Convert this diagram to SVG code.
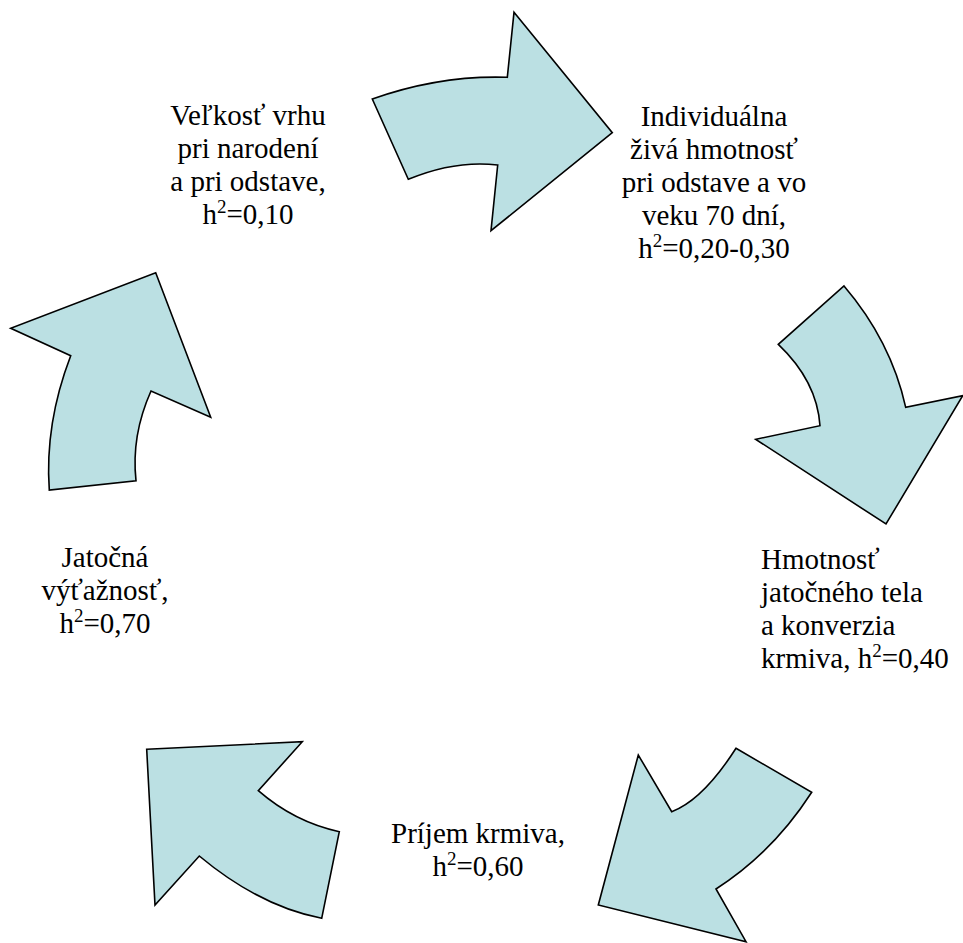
<svg xmlns="http://www.w3.org/2000/svg" width="963" height="943" viewBox="0 0 963 943">
<style>
.arrow{fill:#BBE0E3;stroke:#000;stroke-width:1.6;stroke-linejoin:miter}
text{font-family:'Liberation Serif','Times New Roman',serif;font-size:29px;fill:#000}
.c{text-anchor:middle}
.sup{font-size:19px}
</style>
<rect width="963" height="943" fill="#fff"/>
<g id="connectors">
<path id="arrow-top" class="arrow" d="M372.3,99 Q440,75 507.3,77.3 L514,12.3 L612.3,132.7 L491,230.7 L497.7,165 Q455,160 408.3,179.3 Z"/>
<path id="arrow-right" class="arrow" d="M844,286 Q891,341 905.7,407.3 L962.7,395.7 L886,524 L755.7,439.3 L820,425.7 Q817,381 778.3,344.3 Z"/>
<path id="arrow-bottom-right" class="arrow" d="M736,748.3 L811.7,792.3 Q772.8,852.7 716,889 L746,941.7 L598.3,905 L638.3,755 L671.7,811.7 Q702.8,800 736,748.3 Z"/>
<path id="arrow-bottom-left" class="arrow" d="M146.7,749.3 L302.3,741.7 L258.3,790.7 Q294.6,822.2 339.3,831.7 L321.7,918.3 Q259.5,906.2 199.3,856 L155,905 Z"/>
<path id="arrow-left" class="arrow" d="M155.7,272.7 L210.7,417.3 L151,391 Q131.1,435.5 136,480.7 L49.3,490 Q44.6,423.8 70.7,355.7 L10.7,328.3 Z"/>
</g>
<g id="node-velkost">
<text class="c" x="248" y="125">Veľkosť vrhu</text>
<text class="c" x="248" y="158">pri narodení</text>
<text class="c" x="248" y="191">a pri odstave,</text>
<text class="c" x="248" y="224">h<tspan class="sup" dy="-11">2</tspan><tspan dy="11">=0,10</tspan></text>
</g>
<g id="node-individualna">
<text class="c" x="714" y="126">Individuálna</text>
<text class="c" x="714" y="159">živá hmotnosť</text>
<text class="c" x="714" y="192">pri odstave a vo</text>
<text class="c" x="714" y="225">veku 70 dní,</text>
<text class="c" x="714" y="258">h<tspan class="sup" dy="-11">2</tspan><tspan dy="11">=0,20-0,30</tspan></text>
</g>
<g id="node-hmotnost">
<text x="761" y="569">Hmotnosť</text>
<text x="761" y="602">jatočného tela</text>
<text x="761" y="635">a konverzia</text>
<text x="761" y="668">krmiva, h<tspan class="sup" dy="-11">2</tspan><tspan dy="11">=0,40</tspan></text>
</g>
<g id="node-prijem">
<text class="c" x="478" y="843">Príjem krmiva,</text>
<text class="c" x="478" y="876">h<tspan class="sup" dy="-11">2</tspan><tspan dy="11">=0,60</tspan></text>
</g>
<g id="node-jatocna">
<text class="c" x="105" y="567">Jatočná</text>
<text class="c" x="105" y="600">výťažnosť,</text>
<text class="c" x="105" y="633">h<tspan class="sup" dy="-11">2</tspan><tspan dy="11">=0,70</tspan></text>
</g>
</svg>
